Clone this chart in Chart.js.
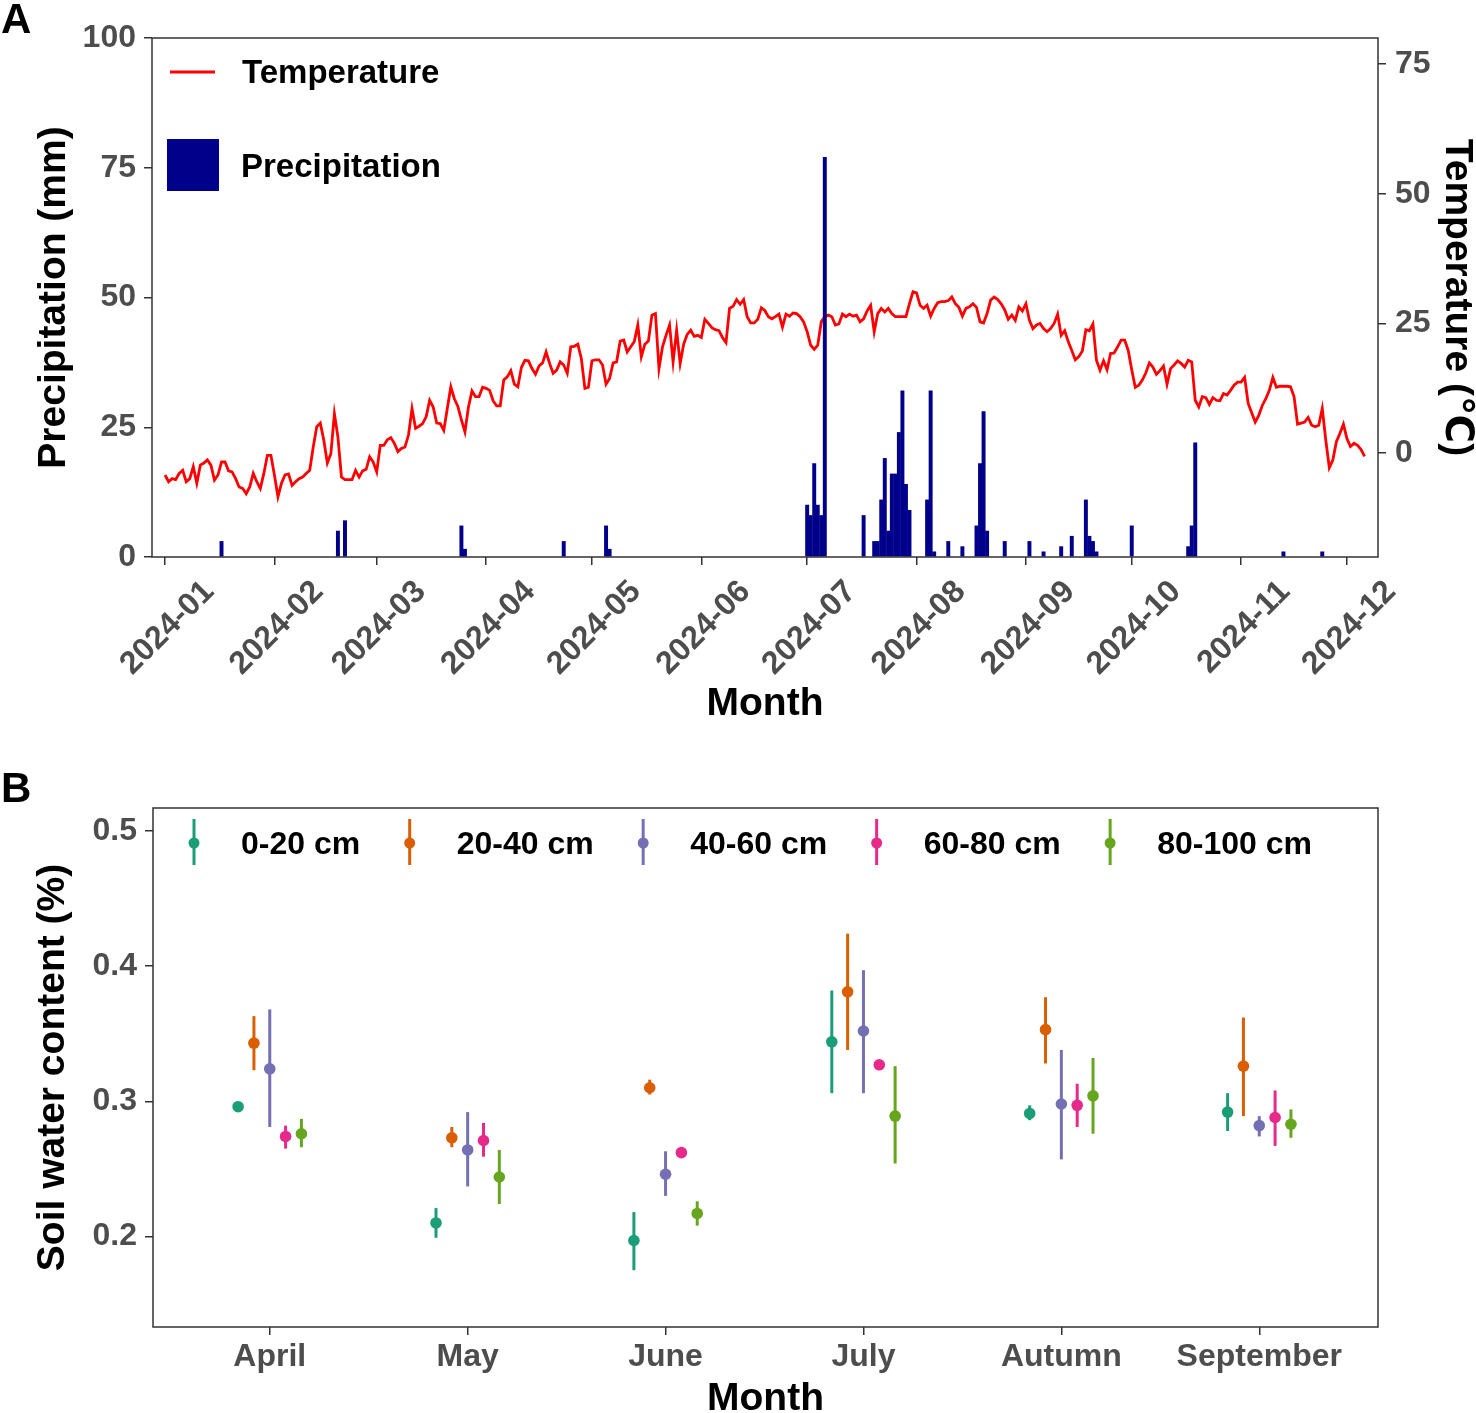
<!DOCTYPE html>
<html>
<head>
<meta charset="utf-8">
<script src="https://cdn.jsdelivr.net/npm/chart.js@4.4.1/dist/chart.umd.min.js"></script>
<style>
  html, body { margin: 0; padding: 0; background: #fff; overflow: hidden; width: 1476px; height: 1413px; }
  #wrapA { position: absolute; left: 0; top: 0; width: 1476px; height: 740px; }
  #wrapB { position: absolute; left: 0; top: 760px; width: 1476px; height: 670px; }
  .tag { position: absolute; font: bold 42px "Liberation Sans", Arial, sans-serif; line-height: 42px; color: #000; }
</style>
</head>
<body>
<div id="wrapA"><canvas id="chartA"></canvas></div>
<div id="wrapB"><canvas id="chartB"></canvas></div>
<div class="tag" style="left:1px; top:-2px;">A</div>
<div class="tag" style="left:1px; top:767px;">B</div>
<script>
// ---- panel A data: daily weather 2024 (day 0 = 2024-01-01) ----
const monthStartDay = [0, 31, 60, 91, 121, 152, 182, 213, 244, 274, 305, 335];
const monthTickLabels = ['2024-01', '2024-02', '2024-03', '2024-04', '2024-05', '2024-06',
                         '2024-07', '2024-08', '2024-09', '2024-10', '2024-11', '2024-12'];

// daily mean temperature, degC
const tempC = [
  -4.2, -5.5, -4.9, -5.1, -3.9, -3.3, -5.5, -4.9, -2.6, -5.8,
  -2.3, -1.9, -1.3, -2.3, -5.2, -4.2, -1.7, -1.7, -3.4, -3.6,
  -4.9, -6.5, -6.8, -7.8, -6.5, -3.9, -5.5, -6.8, -3.9, -0.4,
  -0.4, -4.2, -8.4, -5.8, -4.2, -4.0, -6.2, -5.5, -4.9, -4.6,
  -3.9, -3.3, 1.2, 5.1, 5.8, 2.5, -1.9, -0.1, 7.6, 3.1,
  -4.6, -5.1, -5.1, -5.1, -3.3, -4.6, -3.4, -3.1, -0.7, -1.7,
  -3.6, 1.5, 1.5, 2.6, 3.0, 1.9, 0.3, 0.9, 1.2, 3.5,
  8.6, 4.8, 5.2, 5.7, 7.0, 10.2, 8.9, 5.8, 5.7, 4.4,
  8.6, 12.8, 10.5, 9.0, 6.4, 4.1, 8.9, 12.0, 10.9, 10.9,
  12.7, 12.5, 12.1, 10.1, 9.1, 9.1, 14.1, 14.7, 15.9, 13.3,
  12.8, 16.5, 17.9, 17.8, 16.3, 15.2, 16.8, 17.4, 19.5, 17.3,
  15.4, 16.0, 17.6, 17.0, 15.4, 20.5, 20.6, 21.0, 18.2, 12.5,
  12.7, 17.8, 18.0, 18.0, 17.0, 13.3, 14.4, 17.4, 17.6, 21.6,
  21.8, 19.5, 20.5, 21.5, 24.7, 18.6, 21.0, 21.6, 26.6, 26.9,
  16.3, 20.5, 22.7, 24.7, 17.6, 23.7, 17.3, 21.0, 22.9, 23.7,
  22.5, 22.7, 22.3, 25.8, 25.0, 24.2, 23.8, 23.6, 22.3, 21.3,
  27.9, 28.3, 29.6, 28.7, 29.6, 26.3, 25.1, 25.1, 25.8, 28.0,
  27.5, 26.3, 25.9, 26.3, 26.8, 24.3, 26.8, 26.4, 27.0, 26.9,
  26.3, 25.3, 23.4, 20.8, 20.0, 20.8, 25.3, 26.3, 26.6, 26.3,
  24.7, 24.9, 26.8, 26.3, 26.8, 26.4, 26.6, 25.3, 25.9, 27.4,
  28.5, 23.4, 26.9, 27.9, 27.2, 27.9, 26.9, 26.3, 26.3, 26.3,
  26.3, 28.8, 31.1, 30.9, 28.5, 27.9, 28.5, 26.4, 27.9, 29.0,
  29.2, 29.2, 29.4, 30.1, 28.8, 28.1, 26.4, 27.9, 28.2, 28.8,
  28.1, 25.3, 25.1, 26.9, 29.5, 30.1, 29.6, 28.8, 27.6, 25.8,
  26.6, 25.6, 28.2, 27.4, 28.8, 25.6, 24.0, 24.7, 25.0, 24.0,
  23.4, 24.0, 25.0, 26.8, 22.7, 23.6, 21.5, 19.8, 18.0, 18.6,
  19.7, 23.8, 23.6, 24.9, 17.9, 16.0, 17.8, 16.1, 19.2, 19.3,
  20.5, 21.8, 21.8, 19.8, 16.1, 12.7, 13.1, 14.1, 15.5, 17.4,
  16.6, 15.2, 15.9, 16.8, 13.3, 16.3, 17.0, 17.8, 17.3, 16.6,
  17.9, 17.6, 10.2, 8.9, 10.9, 10.7, 9.4, 10.7, 10.2, 10.1,
  11.5, 11.2, 12.1, 13.1, 13.7, 13.7, 14.6, 9.6, 7.8, 6.0,
  7.3, 9.2, 10.5, 12.1, 14.6, 12.7, 12.9, 12.9, 12.9, 12.8,
  10.9, 5.6, 5.8, 6.0, 6.9, 5.4, 5.1, 5.4, 8.6, 2.5,
  -2.8, -1.3, 2.2, 3.8, 5.6, 2.8, 1.3, 1.9, 1.5, 0.7,
  -0.6
];

// rainy days only (day index, mm)
const precipDay = [16, 49, 51, 84, 85, 113, 125, 126, 182, 183, 184, 185, 186, 187, 198,
                   201, 202, 203, 204, 205, 206, 207, 208, 209, 210, 211, 216, 217, 218,
                   222, 226, 230, 231, 232, 233, 238, 245, 249, 254, 257, 261, 262, 263, 264,
                   274, 290, 291, 292, 317, 328];
const precipMm = [3, 5, 7, 6, 1.5, 3, 6, 1.5, 10, 8, 18, 10, 8, 77, 8,
                  3, 3, 11, 19, 5, 16, 16, 24, 32, 14, 9, 11, 32, 1,
                  3, 2, 6, 18, 28, 5, 3, 3, 1, 2, 4, 11, 4, 3, 1,
                  6, 2, 6, 22, 1, 1];

const precipTicks = [0, 25, 50, 75, 100];
const tempTicks = [0, 25, 50, 75];

// ---- panel B data: soil water content by month and depth ----
const soilMonths = ['April', 'May', 'June', 'July', 'Autumn', 'September'];
const depthLabels = ['0-20 cm', '20-40 cm', '40-60 cm', '60-80 cm', '80-100 cm'];
const swcMean = [
  [0.296, 0.210, 0.197, 0.344, 0.291, 0.292],
  [0.343, 0.273, 0.310, 0.381, 0.353, 0.326],
  [0.324, 0.264, 0.246, 0.352, 0.298, 0.282],
  [0.274, 0.271, 0.262, 0.327, 0.297, 0.288],
  [0.276, 0.244, 0.217, 0.289, 0.304, 0.283]
];
const swcLow = [
  [0.293, 0.199, 0.175, 0.306, 0.286, 0.278],
  [0.323, 0.266, 0.305, 0.338, 0.328, 0.289],
  [0.281, 0.237, 0.230, 0.306, 0.257, 0.274],
  [0.265, 0.259, 0.260, 0.325, 0.281, 0.267],
  [0.266, 0.224, 0.208, 0.254, 0.276, 0.273]
];
const swcHigh = [
  [0.298, 0.221, 0.218, 0.382, 0.297, 0.306],
  [0.363, 0.281, 0.316, 0.424, 0.377, 0.362],
  [0.368, 0.292, 0.263, 0.397, 0.338, 0.289],
  [0.282, 0.284, 0.264, 0.329, 0.313, 0.308],
  [0.287, 0.264, 0.226, 0.326, 0.332, 0.294]
];
const swcTicks = [0.2, 0.3, 0.4, 0.5];

// ---- styles ----
const fontFamily = '"Liberation Sans", Arial, "DejaVu Sans", sans-serif';
const tickFont = { family: fontFamily, size: 32, weight: 'bold' };
const titleFont = { family: fontFamily, size: 39, weight: 'bold' };
const tickColor = '#4D4D4D';
const tempColor = '#FF0000';
const precipColor = '#00008B';
const depthColors = ['#1B9E77', '#D95F02', '#7570B3', '#E7298A', '#66A61E'];
const dodge = 0.08;

Chart.defaults.font.family = fontFamily;
Chart.defaults.animation = false;

const tickGrid = { drawOnChartArea: false, drawTicks: true, tickLength: 8, color: '#333', lineWidth: 1.5 };

const framePlugin = {
  id: 'frame',
  afterDatasetsDraw(chart) {
    const a = chart.chartArea, ctx = chart.ctx;
    ctx.save();
    ctx.strokeStyle = '#333';
    ctx.lineWidth = 1.5;
    ctx.strokeRect(a.left, a.top, a.right - a.left, a.bottom - a.top);
    ctx.restore();
  }
};

const legendA = {
  id: 'legendA',
  afterDraw(chart) {
    const ctx = chart.ctx, a = chart.chartArea;
    const ds = chart.data.datasets;
    ctx.save();
    ctx.font = 'bold 33px ' + fontFamily;
    ctx.textBaseline = 'middle';
    ctx.strokeStyle = tempColor;
    ctx.lineWidth = 3;
    ctx.beginPath();
    ctx.moveTo(a.left + 18, a.top + 34);
    ctx.lineTo(a.left + 63, a.top + 34);
    ctx.stroke();
    ctx.fillStyle = precipColor;
    ctx.fillRect(a.left + 15, a.top + 101, 52, 52);
    ctx.fillStyle = '#000';
    ctx.fillText(ds[1].label, a.left + 90, a.top + 36);
    ctx.fillText(ds[0].label, a.left + 89, a.top + 130);
    ctx.restore();
  }
};

const legendB = {
  id: 'legendB',
  afterDraw(chart) {
    const ctx = chart.ctx, a = chart.chartArea;
    ctx.save();
    ctx.font = 'bold 32px ' + fontFamily;
    ctx.textBaseline = 'middle';
    const cy = a.top + 35;
    let gx = a.left + 41;
    depthLabels.forEach((lab, i) => {
      ctx.strokeStyle = depthColors[i];
      ctx.lineWidth = 3;
      ctx.beginPath();
      ctx.moveTo(gx, cy - 24);
      ctx.lineTo(gx, cy + 22);
      ctx.stroke();
      ctx.fillStyle = depthColors[i];
      ctx.beginPath();
      ctx.arc(gx, cy, 5.5, 0, Math.PI * 2);
      ctx.fill();
      ctx.fillStyle = '#000';
      ctx.fillText(lab, gx + 47, cy + 2);
      gx += 47 + ctx.measureText(lab).width + 49.5;
    });
    ctx.restore();
  }
};

// ---- panel A ----
new Chart(document.getElementById('chartA'), {
  type: 'bar',
  data: {
    datasets: [
      {
        type: 'bar',
        label: 'Precipitation',
        data: precipDay.map((d, i) => ({ x: d, y: precipMm[i] })),
        backgroundColor: precipColor,
        borderWidth: 0,
        barThickness: 3.3,
        yAxisID: 'y',
        order: 0
      },
      {
        type: 'line',
        label: 'Temperature',
        data: tempC.map((v, i) => ({ x: i, y: v })),
        borderColor: tempColor,
        borderWidth: 2.8,
        pointRadius: 0,
        tension: 0,
        fill: false,
        yAxisID: 'y2',
        order: 1
      }
    ]
  },
  options: {
    responsive: true,
    maintainAspectRatio: false,
    layout: { padding: { top: 38, left: 0, right: 0, bottom: 0 } },
    plugins: { legend: { display: false }, tooltip: { enabled: false } },
    scales: {
      x: {
        type: 'linear',
        min: -3.7,
        max: 343.8,
        offset: false,
        grid: Object.assign({ offset: false }, tickGrid),
        border: { display: false },
        afterBuildTicks: s => { s.ticks = monthStartDay.map(v => ({ value: v })); },
        afterFit: s => { s.height = 183; },
        ticks: {
          autoSkip: false,
          minRotation: 45,
          maxRotation: 45,
          labelOffset: 44,
          padding: 8,
          font: tickFont,
          color: tickColor,
          callback: v => monthTickLabels[monthStartDay.indexOf(v)]
        },
        title: { display: true, text: 'Month', font: titleFont, color: '#000', padding: { top: 0, bottom: 12 } }
      },
      y: {
        type: 'linear',
        position: 'left',
        min: 0,
        max: 100,
        grid: tickGrid,
        border: { display: false },
        afterBuildTicks: s => { s.ticks = precipTicks.map(v => ({ value: v })); },
        afterFit: s => { s.width = 152; },
        ticks: { padding: 8, font: tickFont, color: tickColor },
        title: { display: true, text: 'Precipitation (mm)', font: titleFont, color: '#000', padding: { top: 31, bottom: 0 } }
      },
      y2: {
        type: 'linear',
        position: 'right',
        min: -20,
        max: 80,
        grid: tickGrid,
        border: { display: false },
        afterBuildTicks: s => { s.ticks = tempTicks.map(v => ({ value: v })); },
        afterFit: s => { s.width = 98; },
        ticks: { padding: 9, font: tickFont, color: tickColor },
        title: { display: true, text: 'Temperature (℃)', font: Object.assign({ lineHeight: 1 }, titleFont), color: '#000', padding: 0 }
      }
    }
  },
  plugins: [framePlugin, legendA]
});

// ---- panel B ----
const datasetsB = [];
depthLabels.forEach((lab, d) => {
  const off = (d - 2) * dodge;
  datasetsB.push({
    type: 'bar',
    label: lab + ' range',
    data: swcMean[d].map((m, i) => ({ x: i + off, y: [swcLow[d][i], swcHigh[d][i]] })),
    backgroundColor: depthColors[d],
    borderWidth: 0,
    grouped: false,
    maxBarThickness: 3,
    order: 1
  });
  datasetsB.push({
    type: 'line',
    label: lab,
    data: swcMean[d].map((m, i) => ({ x: i + off, y: m })),
    showLine: false,
    pointRadius: 5.8,
    pointBorderWidth: 0,
    pointBackgroundColor: depthColors[d],
    borderColor: depthColors[d],
    order: 0
  });
});

new Chart(document.getElementById('chartB'), {
  type: 'bar',
  data: { datasets: datasetsB },
  options: {
    responsive: true,
    maintainAspectRatio: false,
    layout: { padding: { top: 48, left: 0, right: 98, bottom: 0 } },
    plugins: { legend: { display: false }, tooltip: { enabled: false } },
    scales: {
      x: {
        type: 'linear',
        min: -0.59,
        max: 5.6,
        offset: false,
        grid: Object.assign({ offset: false }, tickGrid),
        border: { display: false },
        afterBuildTicks: s => { s.ticks = soilMonths.map((m, i) => ({ value: i })); },
        afterFit: s => { s.height = 103; },
        ticks: {
          autoSkip: false,
          maxRotation: 0,
          padding: 3,
          font: tickFont,
          color: tickColor,
          callback: v => soilMonths[v]
        },
        title: { display: true, text: 'Month', font: titleFont, color: '#000', padding: { top: 0, bottom: 7 } }
      },
      y: {
        type: 'linear',
        position: 'left',
        min: 0.133,
        max: 0.517,
        grid: tickGrid,
        border: { display: false },
        afterBuildTicks: s => { s.ticks = swcTicks.map(v => ({ value: v })); },
        afterFit: s => { s.width = 153; },
        ticks: { padding: 8, font: tickFont, color: tickColor, callback: v => v.toFixed(1) },
        title: { display: true, text: 'Soil water content (%)', font: titleFont, color: '#000', padding: { top: 30, bottom: 0 } }
      }
    }
  },
  plugins: [framePlugin, legendB]
});
</script>
</body>
</html>
